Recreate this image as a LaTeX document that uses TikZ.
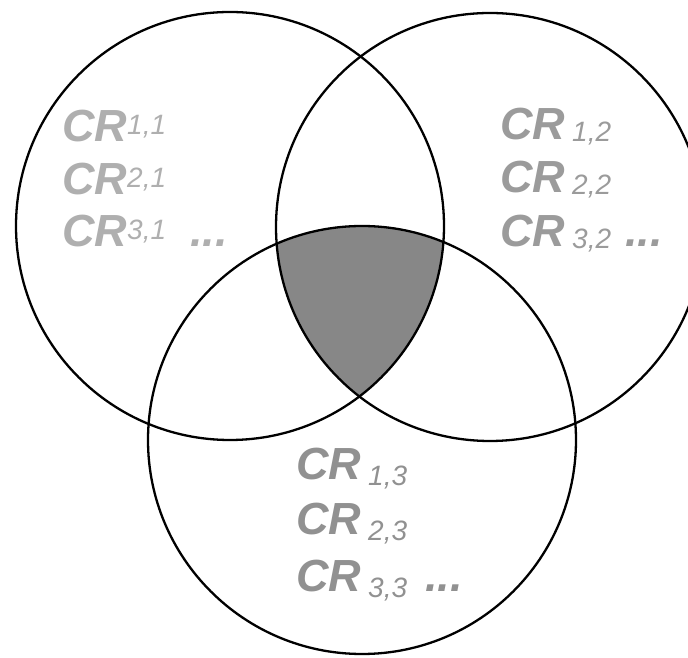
\documentclass[tikz,border=0pt]{standalone}
\usepackage{fontspec}
\newfontfamily\crfont{Liberation Sans}
\definecolor{fillgrey}{RGB}{135,135,135}
\definecolor{txtA}{RGB}{175,175,175}
\definecolor{txtB}{RGB}{155,155,155}
\definecolor{txtC}{RGB}{145,145,145}
\newcommand{\crsub}[1]{{\fontsize{28}{28}\selectfont\mdseries\itshape #1}}
\tikzset{
  ring/.style={draw=black, line width=2.3pt},
  crtext/.style={anchor=base west, inner sep=0pt,
    font=\crfont\bfseries\itshape\fontsize{45}{45}\selectfont},
}
\begin{document}
\begin{tikzpicture}[x=1pt,y=1pt]
\useasboundingbox (0,0) rectangle (688,658);
\fill[white] (0,0) rectangle (688,658);
\clip (0,0) rectangle (688,658);
\coordinate (c1) at (230,432);
\coordinate (c2) at (490,431);
\coordinate (c3) at (362,218);
\begin{scope}
  \clip (c1) circle (214);
  \clip (c2) circle (214);
  \fill[fillgrey] (c3) circle (214);
\end{scope}
\draw[ring] (c1) circle (214);
\draw[ring] (c2) circle (214);
\draw[ring] (c3) circle (214);
% left circle
\node[crtext, text=txtA] (l1) at (62,516) {CR\raisebox{7pt}{\crsub{1,1}}};
\node[crtext, text=txtA] (l2) at (62,463) {CR\raisebox{7pt}{\crsub{2,1}}};
\node[crtext, text=txtA] (l3) at (62,411) {CR\raisebox{7pt}{\crsub{3,1}}\hspace{24pt}...};
% right circle
\node[crtext, text=txtB] (r1) at (500,518) {CR\hspace{7pt}\raisebox{-2pt}{\crsub{1,2}}};
\node[crtext, text=txtB] (r2) at (500,465) {CR\hspace{7pt}\raisebox{-2pt}{\crsub{2,2}}};
\node[crtext, text=txtB] (r3) at (500,411) {CR\hspace{7pt}\raisebox{-2pt}{\crsub{3,2}}\hspace{14pt}...};
% bottom circle
\node[crtext, text=txtC] (b1) at (296,178) {CR\hspace{7pt}\raisebox{-6pt}{\crsub{1,3}}};
\node[crtext, text=txtC] (b2) at (296,123) {CR\hspace{7pt}\raisebox{-6pt}{\crsub{2,3}}};
\node[crtext, text=txtC] (b3) at (296,66) {CR\hspace{7pt}\raisebox{-6pt}{\crsub{3,3}}\hspace{18pt}...};
\end{tikzpicture}
\end{document}
